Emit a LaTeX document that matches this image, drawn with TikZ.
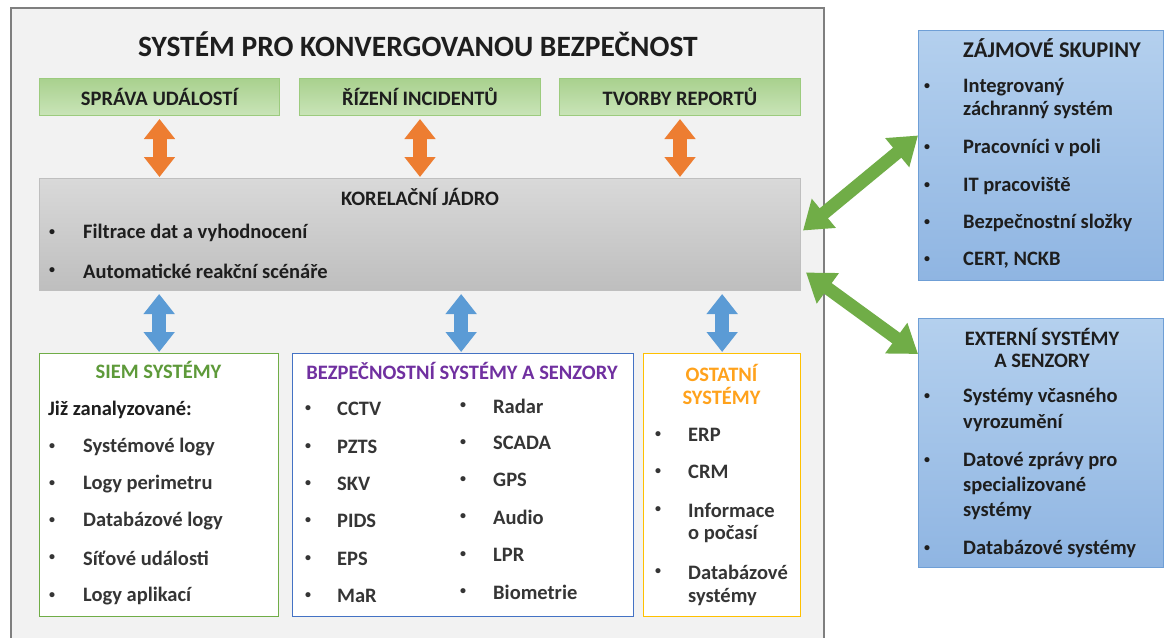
\documentclass[tikz,border=0pt]{standalone}
\usepackage{fontspec}
\setmainfont{Carlito}
\usetikzlibrary{arrows.meta}
\definecolor{outerbg}{HTML}{F2F2F2}
\definecolor{outerbd}{HTML}{7F7F7F}
\definecolor{grtop}{HTML}{A9D18E}
\definecolor{grbot}{HTML}{C9E4B8}
\definecolor{grbd}{HTML}{9CCB7E}
\definecolor{kotop}{HTML}{D9D9D9}
\definecolor{kobot}{HTML}{BEBEBE}
\definecolor{kobd}{HTML}{BFBFBF}
\definecolor{bltop}{HTML}{B4D0EE}
\definecolor{blbot}{HTML}{8FB5E2}
\definecolor{blbd}{HTML}{6F9FD6}
\definecolor{siemc}{HTML}{70AD47}
\definecolor{siemt}{HTML}{5E9A3A}
\definecolor{bezc}{HTML}{4472C4}
\definecolor{bezt}{HTML}{7030A0}
\definecolor{ostc}{HTML}{FFC000}
\definecolor{ostt}{HTML}{FFA21C}
\definecolor{orar}{HTML}{ED7D31}
\definecolor{blar}{HTML}{5B9BD5}
\definecolor{grar}{HTML}{70AD47}
\definecolor{txtc}{HTML}{1E1E1E}
\definecolor{txtd}{HTML}{353535}
\begin{document}
\begin{tikzpicture}[x=1pt,y=-1pt,
  box/.style={anchor=north west, inner sep=0pt, line width=1pt},
  greenbox/.style={box, draw=grbd, top color=grtop, bottom color=grbot},
  korbox/.style={box, draw=kobd, top color=kotop, bottom color=kobot},
  bluebox/.style={box, draw=blbd, top color=bltop, bottom color=blbot},
  whitebox/.style={box, fill=white, line width=1.3pt},
  bodyfont/.style={font=\bfseries\fontsize{20.5}{24}\selectfont},
  txt/.style={bodyfont, anchor=west, inner sep=0pt, text=txtc},
  ctxt/.style={bodyfont, anchor=center, inner sep=0pt, text=txtc},
  bul/.style={font=\bfseries\fontsize{12}{16}\selectfont, anchor=center, inner sep=0pt, text=txtc},
  vert/.style={line width=14pt, {Triangle[width=30pt,length=20pt]}-{Triangle[width=30pt,length=20pt]}},
  diag/.style={draw=grar, line width=13pt, {Triangle[width=36pt,length=27pt]}-{Triangle[width=36pt,length=27pt]}}
]
\useasboundingbox (0,0) rectangle (1164,637);
\clip (0,0) rectangle (1164,637);
\fill[white] (0,0) rectangle (1164,637);

% outer frame
\node[box, draw=outerbd, fill=outerbg, line width=1.5pt, minimum width=813pt, minimum height=650pt] (outer) at (10,7) {};
\node[font=\bfseries\fontsize{29.5}{34}\selectfont, text=txtc, inner sep=0pt] (title) at (418,44) {SYSTÉM PRO KONVERGOVANOU BEZPEČNOST};

% green boxes
\node[greenbox, minimum width=240pt, minimum height=37pt] (spr) at (39,78) {};
\node[greenbox, minimum width=241pt, minimum height=37pt] (riz) at (299,78) {};
\node[greenbox, minimum width=241pt, minimum height=37pt] (tvo) at (559,78) {};
\node[ctxt] (sprt) at (spr.center) {SPRÁVA UDÁLOSTÍ};
\node[ctxt] (rizt) at (riz.center) {ŘÍZENÍ INCIDENTŮ};
\node[ctxt] (tvot) at (tvo.center) {TVORBY REPORTŮ};

% correlation core
\node[korbox, minimum width=761pt, minimum height=112pt] (kor) at (39,178) {};
\node[ctxt] (kort) at (420,197) {KORELAČNÍ JÁDRO};
\node[bul] (kb1) at (52,233) {•};
\node[txt] (k1) at (83,233) {Filtrace dat a vyhodnocení};
\node[bul] (kb2) at (52,271) {•};
\node[txt] (k2) at (83,271) {Automatické reakční scénáře};

% bottom boxes
\node[whitebox, draw=siemc, minimum width=239pt, minimum height=263pt] (siem) at (39,353) {};
\node[whitebox, draw=bezc, minimum width=341pt, minimum height=263pt] (bez) at (292,353) {};
\node[whitebox, draw=ostc, minimum width=157pt, minimum height=263pt] (ost) at (643,353) {};

% SIEM content
\node[ctxt, text=siemt] (siemt) at (158.5,370) {SIEM SYSTÉMY};
\node[txt] (siem0) at (48,410) {Již zanalyzované:};
\foreach \y/\t [count=\i] in {447/Systémové logy,484/Logy perimetru,521/Databázové logy,558/Síťové události,596/Logy aplikací}{
  \node[bul, text=txtd] (sb\i) at (52,\y) {•};
  \node[txt, text=txtd] (s\i) at (83,\y) {\t};
}

% BEZ content
\node[ctxt, text=bezt] (bezt) at (462,371) {BEZPEČNOSTNÍ SYSTÉMY A SENZORY};
\foreach \y/\t [count=\i] in {409/CCTV,447/PZTS,484/SKV,521/PIDS,559/EPS,596/MaR}{
  \node[bul, text=txtd] (bb\i) at (308,\y) {•};
  \node[txt, text=txtd] (b\i) at (337,\y) {\t};
}
\foreach \y/\t [count=\i] in {406/Radar,443/SCADA,480/GPS,517/Audio,555/LPR,592/Biometrie}{
  \node[bul, text=txtd] (cb\i) at (463,\y) {•};
  \node[txt, text=txtd] (c\i) at (493,\y) {\t};
}

% OSTATNI content
\node[ctxt, text=ostt] (ostt1) at (721.5,373) {OSTATNÍ};
\node[ctxt, text=ostt] (ostt2) at (721.5,396) {SYSTÉMY};
\node[bul, text=txtd] (ob1) at (658,435) {•};
\node[txt, text=txtd] (o1) at (688,435) {ERP};
\node[bul, text=txtd] (ob2) at (658,472) {•};
\node[txt, text=txtd] (o2) at (688,472) {CRM};
\node[bul, text=txtd] (ob3) at (658,510) {•};
\node[txt, text=txtd] (o3) at (688,510) {Informace};
\node[txt, text=txtd] (o3b) at (688,534) {o počasí};
\node[bul, text=txtd] (ob4) at (658,572) {•};
\node[txt, text=txtd] (o4) at (688,572) {Databázové};
\node[txt, text=txtd] (o4b) at (688,597) {systémy};

% right boxes
\node[bluebox, minimum width=245pt, minimum height=250pt] (zaj) at (918,30) {};
\node[txt, font=\bfseries\fontsize{22.5}{26}\selectfont] (zajt) at (963,48) {ZÁJMOVÉ SKUPINY};
\node[bul] (zb1) at (927,87) {•};
\node[txt] (z1) at (963,87) {Integrovaný};
\node[txt] (z1b) at (963,110) {záchranný systém};
\node[bul] (zb2) at (927,148) {•};
\node[txt] (z2) at (963,148) {Pracovníci v poli};
\node[bul] (zb3) at (927,186) {•};
\node[txt] (z3) at (963,186) {IT pracoviště};
\node[bul] (zb4) at (927,223) {•};
\node[txt] (z4) at (963,223) {Bezpečnostní složky};
\node[bul] (zb5) at (927,260) {•};
\node[txt] (z5) at (963,260) {CERT, NCKB};

\node[bluebox, minimum width=245pt, minimum height=249pt] (ext) at (918,318) {};
\node[ctxt] (extt1) at (1042,337) {EXTERNÍ SYSTÉMY};
\node[ctxt] (extt2) at (1042,361) {A SENZORY};
\node[bul] (eb1) at (927,397) {•};
\node[txt] (e1) at (963,397) {Systémy včasného};
\node[txt] (e1b) at (963,423) {vyrozumění};
\node[bul] (eb2) at (927,461) {•};
\node[txt] (e2) at (963,461) {Datové zprávy pro};
\node[txt] (e2b) at (963,486) {specializované};
\node[txt] (e2c) at (963,511) {systémy};
\node[bul] (eb3) at (927,549) {•};
\node[txt] (e3) at (963,549) {Databázové systémy};

% orange arrows
\foreach \n in {spr,riz,tvo}{
  \draw[vert, draw=orar] ([yshift=-3pt]\n.south) -- ([yshift=1pt]\n.south |- kor.north);
}
% blue arrows
\draw[vert, draw=blar] ([yshift=-3pt]kor.south -| siem.north) -- ([yshift=1pt]siem.north);
\draw[vert, draw=blar] ([xshift=-2pt,yshift=-3pt]kor.south -| bez.north) -- ([xshift=-2pt,yshift=1pt]bez.north);
\draw[vert, draw=blar] ([yshift=-3pt]kor.south -| ost.north) -- ([yshift=1pt]ost.north);
% green diagonal arrows
\draw[diag] ([xshift=2pt,yshift=4pt]kor.east) -- ([yshift=20pt]zaj.west);
\draw[diag] ([xshift=5pt,yshift=-38pt]kor.east) -- ([yshift=-36pt]ext.north west);
\end{tikzpicture}
\end{document}
